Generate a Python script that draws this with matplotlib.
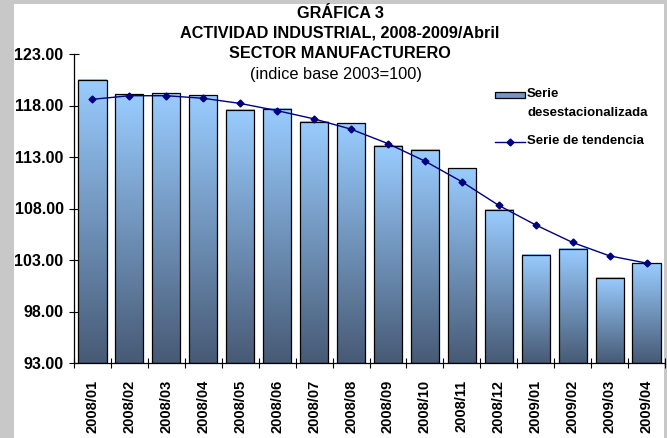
import numpy as np
import matplotlib.pyplot as plt
from matplotlib.patches import Rectangle
from matplotlib.lines import Line2D
from matplotlib.colors import LinearSegmentedColormap

plt.rcParams['font.family'] = ['Liberation Sans', 'DejaVu Sans']

meses = ["2008/01", "2008/02", "2008/03", "2008/04", "2008/05", "2008/06",
         "2008/07", "2008/08", "2008/09", "2008/10", "2008/11", "2008/12",
         "2009/01", "2009/02", "2009/03", "2009/04"]
desestacionalizada = [120.5, 119.1, 119.2, 119.0, 117.6, 117.7, 116.4, 116.3,
                      114.1, 113.7, 111.9, 107.9, 103.5, 104.1, 101.3, 102.7]
tendencia = [118.6, 118.95, 118.95, 118.7, 118.2, 117.5, 116.7, 115.7,
             114.3, 112.6, 110.6, 108.3, 106.4, 104.7, 103.4, 102.7]
yticks = [93, 98, 103, 108, 113, 118, 123]

W, H = 667, 438
fig = plt.figure(figsize=(6.67, 4.38), dpi=100, facecolor='#c8c8c8')
# white chart area inside grey frame
fig.patches.append(Rectangle((14/W, 0), 650/W, 1 - 4/H, transform=fig.transFigure,
                             facecolor='white', edgecolor='none', zorder=-1))

ax = fig.add_axes([74/W, 1 - 363/H, 591/W, 309/H])
ax.patch.set_alpha(0)

cmap = LinearSegmentedColormap.from_list('g', ['#475a75', '#99ccff'])
grad = np.linspace(0, 1, 256).reshape(-1, 1)
x = np.arange(len(meses))
bars = ax.bar(x, np.array(desestacionalizada) - 93, bottom=93, width=0.76,
              facecolor='none', edgecolor='black', linewidth=0.9, zorder=3)
for b in bars:
    x0, y0 = b.get_x(), b.get_y()
    ax.imshow(grad, cmap=cmap, origin='lower', aspect='auto', zorder=2,
              extent=(x0, x0 + b.get_width(), y0, y0 + b.get_height()))

ax.plot(x, tendencia, color='#000080', linewidth=1.0, marker='D', markersize=3.5, zorder=4)

ax.set_xlim(-0.5, len(meses) - 0.5)
ax.set_ylim(93, 123)
ax.set_yticks(yticks)
ax.set_yticklabels(["%.2f" % v for v in yticks], fontweight='bold', fontsize=11.5)
ax.set_xticks(x)
ax.set_xticklabels(meses, rotation=90, fontweight='bold', fontsize=10.5)
ax.set_xticks(np.arange(len(meses) + 1) - 0.5, minor=True)
ax.tick_params(axis='x', which='major', length=0, pad=12)
ax.tick_params(axis='x', which='minor', direction='inout', length=7, width=0.8)
ax.tick_params(axis='y', direction='inout', length=7, width=0.8, pad=4)
for s in ['top', 'right']:
    ax.spines[s].set_visible(False)
for s in ['left', 'bottom']:
    ax.spines[s].set_linewidth(0.9)

tx = 340 / W
fig.text(tx, 1 - 14/H, "GRÁFICA 3", ha='center', va='center', fontweight='bold', fontsize=11.7)
fig.text(tx, 1 - 33/H, "ACTIVIDAD INDUSTRIAL, 2008-2009/Abril", ha='center', va='center',
         fontweight='bold', fontsize=11.7)
fig.text(tx, 1 - 53/H, "SECTOR MANUFACTURERO", ha='center', va='center',
         fontweight='bold', fontsize=11.7)
fig.text(tx - 4/W, 1 - 74/H, "(indice base 2003=100)", ha='center', va='center', fontsize=11.8)

# legend, laid out like the spreadsheet one
fig.patches.append(Rectangle((495/W, 1 - 98/H), 30/W, 6/H, transform=fig.transFigure,
                             facecolor='#7396c2', edgecolor='black', linewidth=0.9))
fig.text(527/W, 1 - 94/H, "Serie", ha='left', va='center', fontweight='bold', fontsize=9.5)
fig.text(527/W, 1 - 113/H, "desestacionalizada", ha='left', va='center',
         fontweight='bold', fontsize=9.5)
fig.lines.append(Line2D([495/W, 525/W], [1 - 141.5/H, 1 - 141.5/H], transform=fig.transFigure,
                        color='#000080', linewidth=1.0))
fig.lines.append(Line2D([510/W], [1 - 141.5/H], transform=fig.transFigure,
                        color='#000080', marker='D', markersize=3.5))
fig.text(527/W, 1 - 141.5/H, "Serie de tendencia", ha='left', va='center',
         fontweight='bold', fontsize=9.5)

fig.savefig('out.png', dpi=100, facecolor=fig.get_facecolor())
